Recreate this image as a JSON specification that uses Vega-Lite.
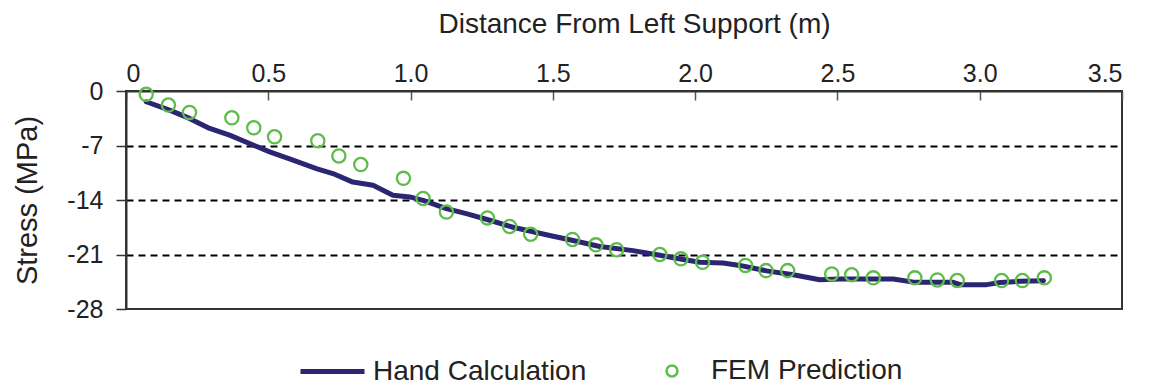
{
  "$schema": "https://vega.github.io/schema/vega-lite/v6.json",
  "width": 996,
  "height": 218,
  "autosize": "none",
  "padding": {"left": 126, "top": 91, "right": 33, "bottom": 77},
  "background": "white",
  "config": {
    "font": "Liberation Sans",
    "view": {"stroke": "#333333", "strokeWidth": 2},
    "axis": {"labelColor": "#222222", "titleColor": "#222222", "titleFontWeight": "normal"},
    "legend": {"labelColor": "#222222", "labelFont": "Liberation Sans", "labelLimit": 0}
  },
  "datasets": {
    "hand": [
      {"x": 0.071, "y": -1.38}, {"x": 0.153, "y": -2.45}, {"x": 0.223, "y": -3.52},
      {"x": 0.294, "y": -4.81}, {"x": 0.364, "y": -5.67}, {"x": 0.434, "y": -6.74},
      {"x": 0.505, "y": -7.82}, {"x": 0.587, "y": -8.89}, {"x": 0.669, "y": -9.96},
      {"x": 0.727, "y": -10.6}, {"x": 0.797, "y": -11.7}, {"x": 0.868, "y": -12.1},
      {"x": 0.938, "y": -13.4}, {"x": 0.997, "y": -13.6}, {"x": 1.044, "y": -14.05},
      {"x": 1.126, "y": -15.1}, {"x": 1.196, "y": -15.76}, {"x": 1.278, "y": -16.6},
      {"x": 1.36, "y": -17.5}, {"x": 1.489, "y": -18.56}, {"x": 1.571, "y": -19.2},
      {"x": 1.665, "y": -19.97}, {"x": 1.782, "y": -20.5}, {"x": 1.876, "y": -21.1},
      {"x": 1.958, "y": -21.65}, {"x": 2.017, "y": -22.0}, {"x": 2.098, "y": -22.1},
      {"x": 2.157, "y": -22.4}, {"x": 2.251, "y": -23.1}, {"x": 2.345, "y": -23.6},
      {"x": 2.438, "y": -24.25}, {"x": 2.509, "y": -24.15}, {"x": 2.603, "y": -24.15},
      {"x": 2.696, "y": -24.15}, {"x": 2.767, "y": -24.55}, {"x": 2.907, "y": -24.57},
      {"x": 2.931, "y": -24.87}, {"x": 3.025, "y": -24.87}, {"x": 3.072, "y": -24.6},
      {"x": 3.142, "y": -24.44}, {"x": 3.224, "y": -24.36}
    ],
    "fem": [
      {"x": 0.071, "y": -0.43}, {"x": 0.149, "y": -1.8}, {"x": 0.223, "y": -2.75},
      {"x": 0.372, "y": -3.44}, {"x": 0.449, "y": -4.73}, {"x": 0.522, "y": -5.88},
      {"x": 0.674, "y": -6.4}, {"x": 0.748, "y": -8.34}, {"x": 0.825, "y": -9.45},
      {"x": 0.975, "y": -11.22}, {"x": 1.044, "y": -13.8}, {"x": 1.126, "y": -15.55},
      {"x": 1.27, "y": -16.3}, {"x": 1.348, "y": -17.4}, {"x": 1.422, "y": -18.4},
      {"x": 1.569, "y": -19.07}, {"x": 1.651, "y": -19.76}, {"x": 1.724, "y": -20.4},
      {"x": 1.876, "y": -21.0}, {"x": 1.95, "y": -21.56}, {"x": 2.026, "y": -22.0},
      {"x": 2.177, "y": -22.4}, {"x": 2.249, "y": -23.07}, {"x": 2.325, "y": -23.07},
      {"x": 2.48, "y": -23.5}, {"x": 2.55, "y": -23.6}, {"x": 2.626, "y": -24.0},
      {"x": 2.772, "y": -24.0}, {"x": 2.851, "y": -24.27}, {"x": 2.921, "y": -24.35},
      {"x": 3.077, "y": -24.35}, {"x": 3.15, "y": -24.35}, {"x": 3.227, "y": -24.0}
    ]
  },
  "encoding": {
    "x": {
      "field": "x", "type": "quantitative",
      "scale": {"domain": [0, 3.5], "nice": false, "zero": false},
      "axis": {
        "orient": "top",
        "title": "Distance From Left Support (m)",
        "values": [0, 0.5, 1, 1.5, 2, 2.5, 3, 3.5],
        "labelExpr": "datum.value == 0 ? '0' : format(datum.value, '.1f')",
        "labelFontSize": 25,
        "labelPadding": 14,
        "tickSize": -9,
        "tickColor": "#555555",
        "tickWidth": 1.5,
        "domainColor": "#333333",
        "domainWidth": 2,
        "grid": false,
        "titleFontSize": 28,
        "titleX": 508,
        "titleY": -59,
        "titleAlign": "center",
        "titleBaseline": "alphabetic",
        "titleAnchor": null
      }
    },
    "y": {
      "field": "y", "type": "quantitative",
      "scale": {"domain": [-28, 0], "nice": false, "zero": false},
      "axis": {
        "title": "Stress (MPa)",
        "values": [0, -7, -14, -21, -28],
        "labelExpr": "'' + datum.value",
        "labelFontSize": 25,
        "labelPadding": 13,
        "tickSize": 10,
        "tickColor": "#333333",
        "tickWidth": 1.5,
        "domainColor": "#333333",
        "domainWidth": 2,
        "grid": true,
        "gridColor": "#000000",
        "gridWidth": 2,
        "gridDash": [7, 5],
        "gridOpacity": {"condition": {"test": "datum.value == 0 || datum.value == -28", "value": 0}, "value": 1},
        "titleFontSize": 29,
        "titleAngle": -90,
        "titleX": -99,
        "titleY": 109,
        "titleAlign": "center",
        "titleBaseline": "middle",
        "titleAnchor": null
      }
    }
  },
  "layer": [
    {
      "data": {"name": "hand"},
      "mark": {"type": "line", "strokeWidth": 5, "strokeCap": "round", "strokeJoin": "round"},
      "encoding": {
        "color": {
          "datum": "Hand Calculation",
          "type": "nominal",
          "scale": {"domain": ["Hand Calculation"], "range": ["#2b2572"]},
          "legend": {
            "orient": "none",
            "legendX": 172,
            "legendY": 246,
            "title": null,
            "padding": 0,
            "symbolType": "stroke",
            "symbolSize": 4096,
            "symbolStrokeWidth": 5,
            "labelFontSize": 28,
            "labelOffset": 6,
            "labelLimit": 0
          }
        }
      }
    },
    {
      "data": {"name": "fem"},
      "mark": {"type": "point", "shape": "circle", "filled": false, "size": 175, "strokeWidth": 2.3, "opacity": 1},
      "encoding": {
        "color": {
          "datum": "FEM Prediction",
          "type": "nominal",
          "scale": {"domain": ["FEM Prediction"], "range": ["#5cbd4b"]},
          "legend": {
            "orient": "none",
            "legendX": 532,
            "legendY": 266,
            "title": null,
            "padding": 0,
            "symbolType": "circle",
            "symbolSize": 120,
            "symbolStrokeWidth": 2.5,
            "symbolOpacity": 1,
            "symbolFillColor": "transparent",
            "labelFontSize": 28,
            "labelOffset": 25,
            "labelLimit": 0
          }
        }
      }
    }
  ],
  "resolve": {"scale": {"color": "independent"}, "legend": {"color": "independent"}}
}
